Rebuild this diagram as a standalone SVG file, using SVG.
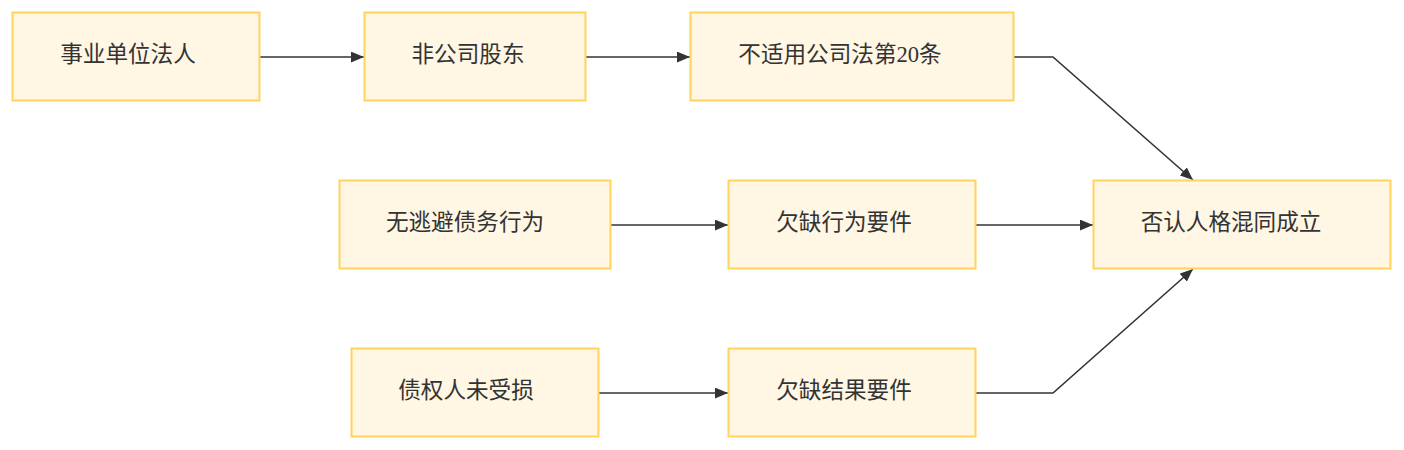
<svg xmlns="http://www.w3.org/2000/svg" width="1404" height="450" viewBox="0 0 1404 450">
<defs>
<style>
.node rect{fill:#fff6e4;stroke:#ffd35c;stroke-width:2}
.node text{font-family:"Liberation Serif","Noto Sans CJK SC",sans-serif;font-size:22.6px;fill:#333;text-anchor:middle;dominant-baseline:central}
.edges path{fill:none;stroke:#333;stroke-width:1.6}
</style>
<marker id="arr" viewBox="0 0 12 10" refX="12" refY="5" markerWidth="13" markerHeight="11" markerUnits="userSpaceOnUse" orient="auto">
<path d="M0,0 L12,5 L0,10 Z" fill="#333"/>
</marker>
</defs>
<rect width="1404" height="450" fill="#fff"/>
<g class="edges">
<path d="M260,57 H364" marker-end="url(#arr)"/>
<path d="M586,57 H690" marker-end="url(#arr)"/>
<path d="M1014,57 H1053 L1193,180" marker-end="url(#arr)"/>
<path d="M611,225 H728" marker-end="url(#arr)"/>
<path d="M976,225 H1093" marker-end="url(#arr)"/>
<path d="M598,393 H728" marker-end="url(#arr)"/>
<path d="M976,393 H1053 L1193,269" marker-end="url(#arr)"/>
</g>
<g id="n1" class="node"><rect x="12.5" y="12.5" width="247" height="88"/><text x="128" y="54">事业单位法人</text></g>
<g id="n2" class="node"><rect x="364.5" y="12.5" width="221" height="88"/><text x="468" y="54">非公司股东</text></g>
<g id="n3" class="node"><rect x="690.5" y="12.5" width="323" height="88"/><text x="840" y="54">不适用公司法第20条</text></g>
<g id="n4" class="node"><rect x="339.5" y="180.5" width="271" height="88"/><text x="465" y="222">无逃避债务行为</text></g>
<g id="n5" class="node"><rect x="728.5" y="180.5" width="247" height="88"/><text x="844" y="222">欠缺行为要件</text></g>
<g id="n6" class="node"><rect x="1093.5" y="180.5" width="297" height="88"/><text x="1231" y="222">否认人格混同成立</text></g>
<g id="n7" class="node"><rect x="351.5" y="348.5" width="247" height="88"/><text x="466" y="390">债权人未受损</text></g>
<g id="n8" class="node"><rect x="728.5" y="348.5" width="247" height="88"/><text x="844" y="390">欠缺结果要件</text></g>
</svg>
